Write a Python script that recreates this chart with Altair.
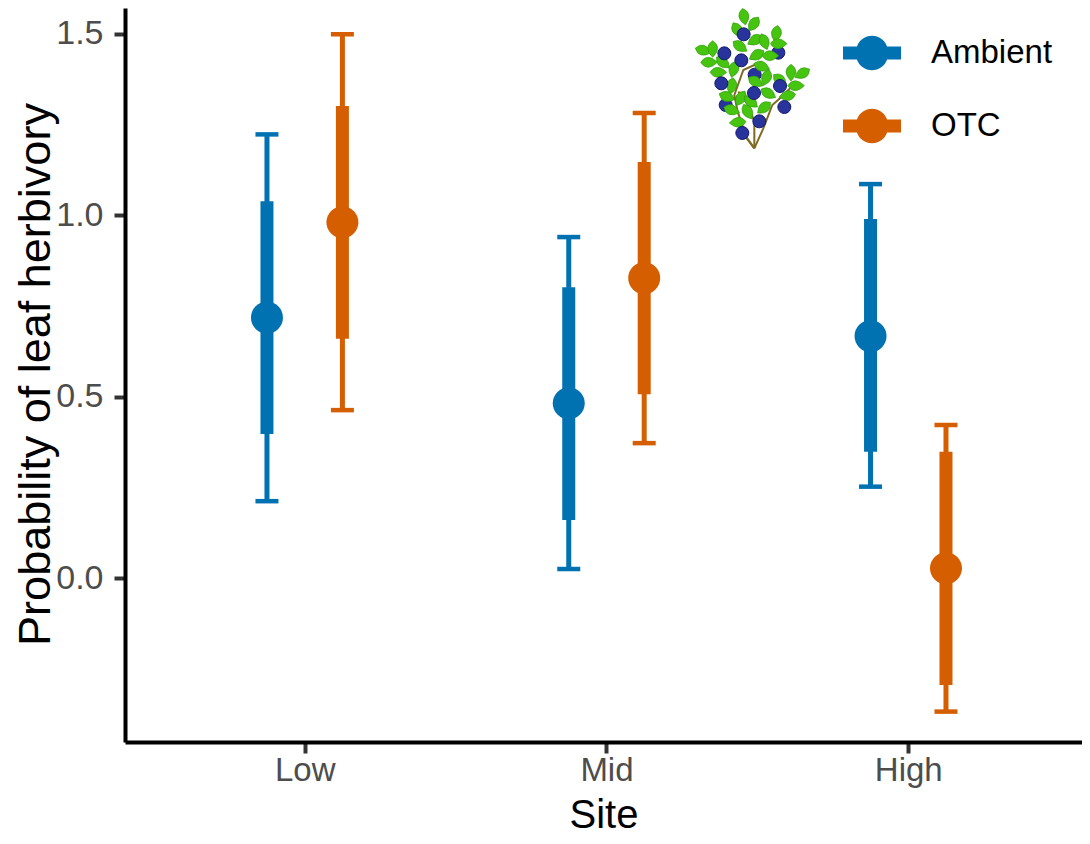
import json

import altair as alt
import pandas as pd

# Estimates and intervals
sites = ['Low', 'Mid', 'High']
treatments = ['Ambient', 'OTC']
colors = ['#0072B2', '#D55E00']

site_num = [1, 1, 2, 2, 3, 3]
treatment = ['Ambient', 'OTC', 'Ambient', 'OTC', 'Ambient', 'OTC']
estimate = [0.718, 0.981, 0.482, 0.827, 0.667, 0.027]
ci_low = [0.212, 0.463, 0.025, 0.372, 0.252, -0.368]
ci_high = [1.223, 1.499, 0.940, 1.282, 1.086, 0.422]
se_low = [0.397, 0.660, 0.160, 0.507, 0.348, -0.295]
se_high = [1.039, 1.301, 0.802, 1.147, 0.990, 0.348]

dodge = 0.125

df = pd.DataFrame({
    'site': site_num,
    'Treatment': treatment,
    'estimate': estimate,
    'ci_low': ci_low,
    'ci_high': ci_high,
    'se_low': se_low,
    'se_high': se_high,
})
df['x'] = df['site'] + df['Treatment'].map({'Ambient': -dodge, 'OTC': dodge})

# Blueberry sprig, in its own little drawing units
stem_id = ['a'] * 6 + ['b'] * 5 + ['c'] * 4 + ['d'] * 3
stem_x = [178, 155, 128, 118, 145, 200, 178, 205, 232, 255, 290, 178, 178, 160, 130, 178, 150, 120]
stem_y = [430, 400, 320, 270, 195, 170, 430, 370, 300, 280, 245, 430, 350, 300, 260, 430, 390, 345]

back_berry_x = [250, 179, 92]
back_berry_y = [143, 209, 300]
front_berry_x = [146, 88, 139, 79, 255, 177, 268, 193, 142]
front_berry_y = [88, 145, 166, 235, 243, 264, 306, 349, 384]

leaf_x = [147, 176, 127, 244, 251, 135, 180, 208, 185, 226, 25, 53, 42, 84, 70, 116, 200,
          214, 182, 110, 96, 137, 168, 220, 277, 303, 288, 322, 255, 110, 158, 207, 128]
leaf_y = [35, 57, 75, 86, 116, 124, 105, 110, 150, 152, 136, 132, 172, 172, 202, 193, 184,
          218, 230, 243, 275, 280, 290, 265, 272, 242, 203, 205, 225, 315, 320, 308, 352]
leaf_angle = [80, 125, 60, 100, 0, 35, 150, 70, 150, 0, 15, 90, 0, 40, 0, 105, 20,
              110, 30, 100, 20, 120, 40, 30, 170, 0, 90, 150, 40, 20, 60, 140, 175]

stems = pd.DataFrame({'stem': stem_id, 'lx': stem_x, 'ly': stem_y})
back_berries = pd.DataFrame({'lx': back_berry_x, 'ly': back_berry_y})
front_berries = pd.DataFrame({'lx': front_berry_x, 'ly': front_berry_y})
leaves = pd.DataFrame({'lx': leaf_x, 'ly': leaf_y, 'angle': leaf_angle})

font = 'Liberation Sans'

x_scale = alt.Scale(domain=[0.4046, 3.5757], nice=False, zero=False)
y_scale = alt.Scale(domain=[-0.4518, 1.5714], nice=False, zero=False)
color_scale = alt.Scale(domain=treatments, range=colors)

x_axis = alt.Axis(
    title='Site', values=[1, 2, 3],
    labelExpr=json.dumps(sites) + '[datum.value - 1]',
    labelFontSize=33, labelColor='#4D4D4D', labelPadding=1,
    titleFontSize=40, titleColor='black', titleFontWeight='normal',
    titleY=85, titleBaseline='alphabetic',
)
y_axis = alt.Axis(
    title='Probability of leaf herbivory', values=[0, 0.5, 1, 1.5], format='.1f',
    labelFontSize=34, labelColor='#4D4D4D', labelPadding=11,
    titleFontSize=45, titleColor='black', titleFontWeight='normal',
    titleX=-76, titleY=366, titleBaseline='alphabetic',
)

legend_symbol = ('M-1,-0.224H-0.52A0.55,0.55,0,0,1,0.52,-0.224H1V0.224H0.52'
                 'A0.55,0.55,0,0,1,-0.52,0.224H-1Z')
legend = alt.Legend(
    title=None, orient='none', legendX=718, legendY=16,
    symbolType=legend_symbol, symbolSize=3364, symbolStrokeWidth=0, symbolOpacity=1,
    labelFontSize=33, labelColor='black', labelOffset=30, rowPadding=26,
)

base = alt.Chart(df).encode(
    x=alt.X('x:Q', scale=x_scale, axis=x_axis),
    color=alt.Color('Treatment:N', scale=color_scale, legend=legend),
)

whiskers = base.mark_rule(strokeWidth=5).encode(
    y=alt.Y('ci_low:Q', scale=y_scale, axis=y_axis), y2='ci_high:Q')
bars = base.mark_rule(strokeWidth=13).encode(
    y=alt.Y('se_low:Q', scale=y_scale, axis=y_axis), y2='se_high:Q')
cap_low = base.mark_tick(orient='horizontal', size=23, thickness=4.5, opacity=1).encode(
    y=alt.Y('ci_low:Q', scale=y_scale, axis=y_axis))
cap_high = base.mark_tick(orient='horizontal', size=23, thickness=4.5, opacity=1).encode(
    y=alt.Y('ci_high:Q', scale=y_scale, axis=y_axis))
dots = base.mark_point(filled=True, size=1024, opacity=1).encode(
    y=alt.Y('estimate:Q', scale=y_scale, axis=y_axis))

# sprig scales map drawing units onto the plot area
plant_x = alt.X('lx:Q', scale=alt.Scale(domain=[-1710, 1161], nice=False, zero=False), axis=None)
plant_y = alt.Y('ly:Q', scale=alt.Scale(domain=[2211, 9], nice=False, zero=False), axis=None)

stem_layer = alt.Chart(stems).mark_line(color='#7d6b22', strokeWidth=2).encode(
    x=plant_x, y=plant_y, detail='stem:N', order=alt.Order('ly:Q', sort='descending'))
back_layer = alt.Chart(back_berries).mark_circle(
    size=169, color='#28339c', stroke='#141a6e', strokeWidth=1, opacity=1
).encode(x=plant_x, y=plant_y)
leaf_path = 'M-1,0Q-0.2,-1.2,1,0Q-0.2,1.2,-1,0Z'
leaf_layer = alt.Chart(leaves).mark_point(
    shape=leaf_path, size=280, filled=True, color='#46c410', stroke='#2f9a0c', strokeWidth=0.6, opacity=1
).encode(x=plant_x, y=plant_y, angle=alt.Angle('angle:Q', scale=None))
front_layer = alt.Chart(front_berries).mark_circle(
    size=169, color='#28339c', stroke='#141a6e', strokeWidth=1, opacity=1
).encode(x=plant_x, y=plant_y)

main = alt.layer(whiskers, bars, cap_low, cap_high, dots)
plant = alt.layer(stem_layer, back_layer, leaf_layer, front_layer)

chart = alt.layer(main, plant).resolve_scale(
    x='independent', y='independent'
).properties(
    width=957,
    height=734,
    autosize=alt.AutoSizeParams(type='none'),
    padding={'left': 117, 'top': 0, 'right': 0, 'bottom': 94},
).configure_view(
    strokeWidth=0
).configure_axis(
    grid=False,
    domainColor='black',
    domainWidth=4,
    tickColor='#333333',
    tickWidth=4,
    tickSize=11,
    labelFont=font,
    titleFont=font,
).configure_legend(
    labelFont=font
)

chart.save('out.html', embed_options={'renderer': 'svg', 'actions': False})
